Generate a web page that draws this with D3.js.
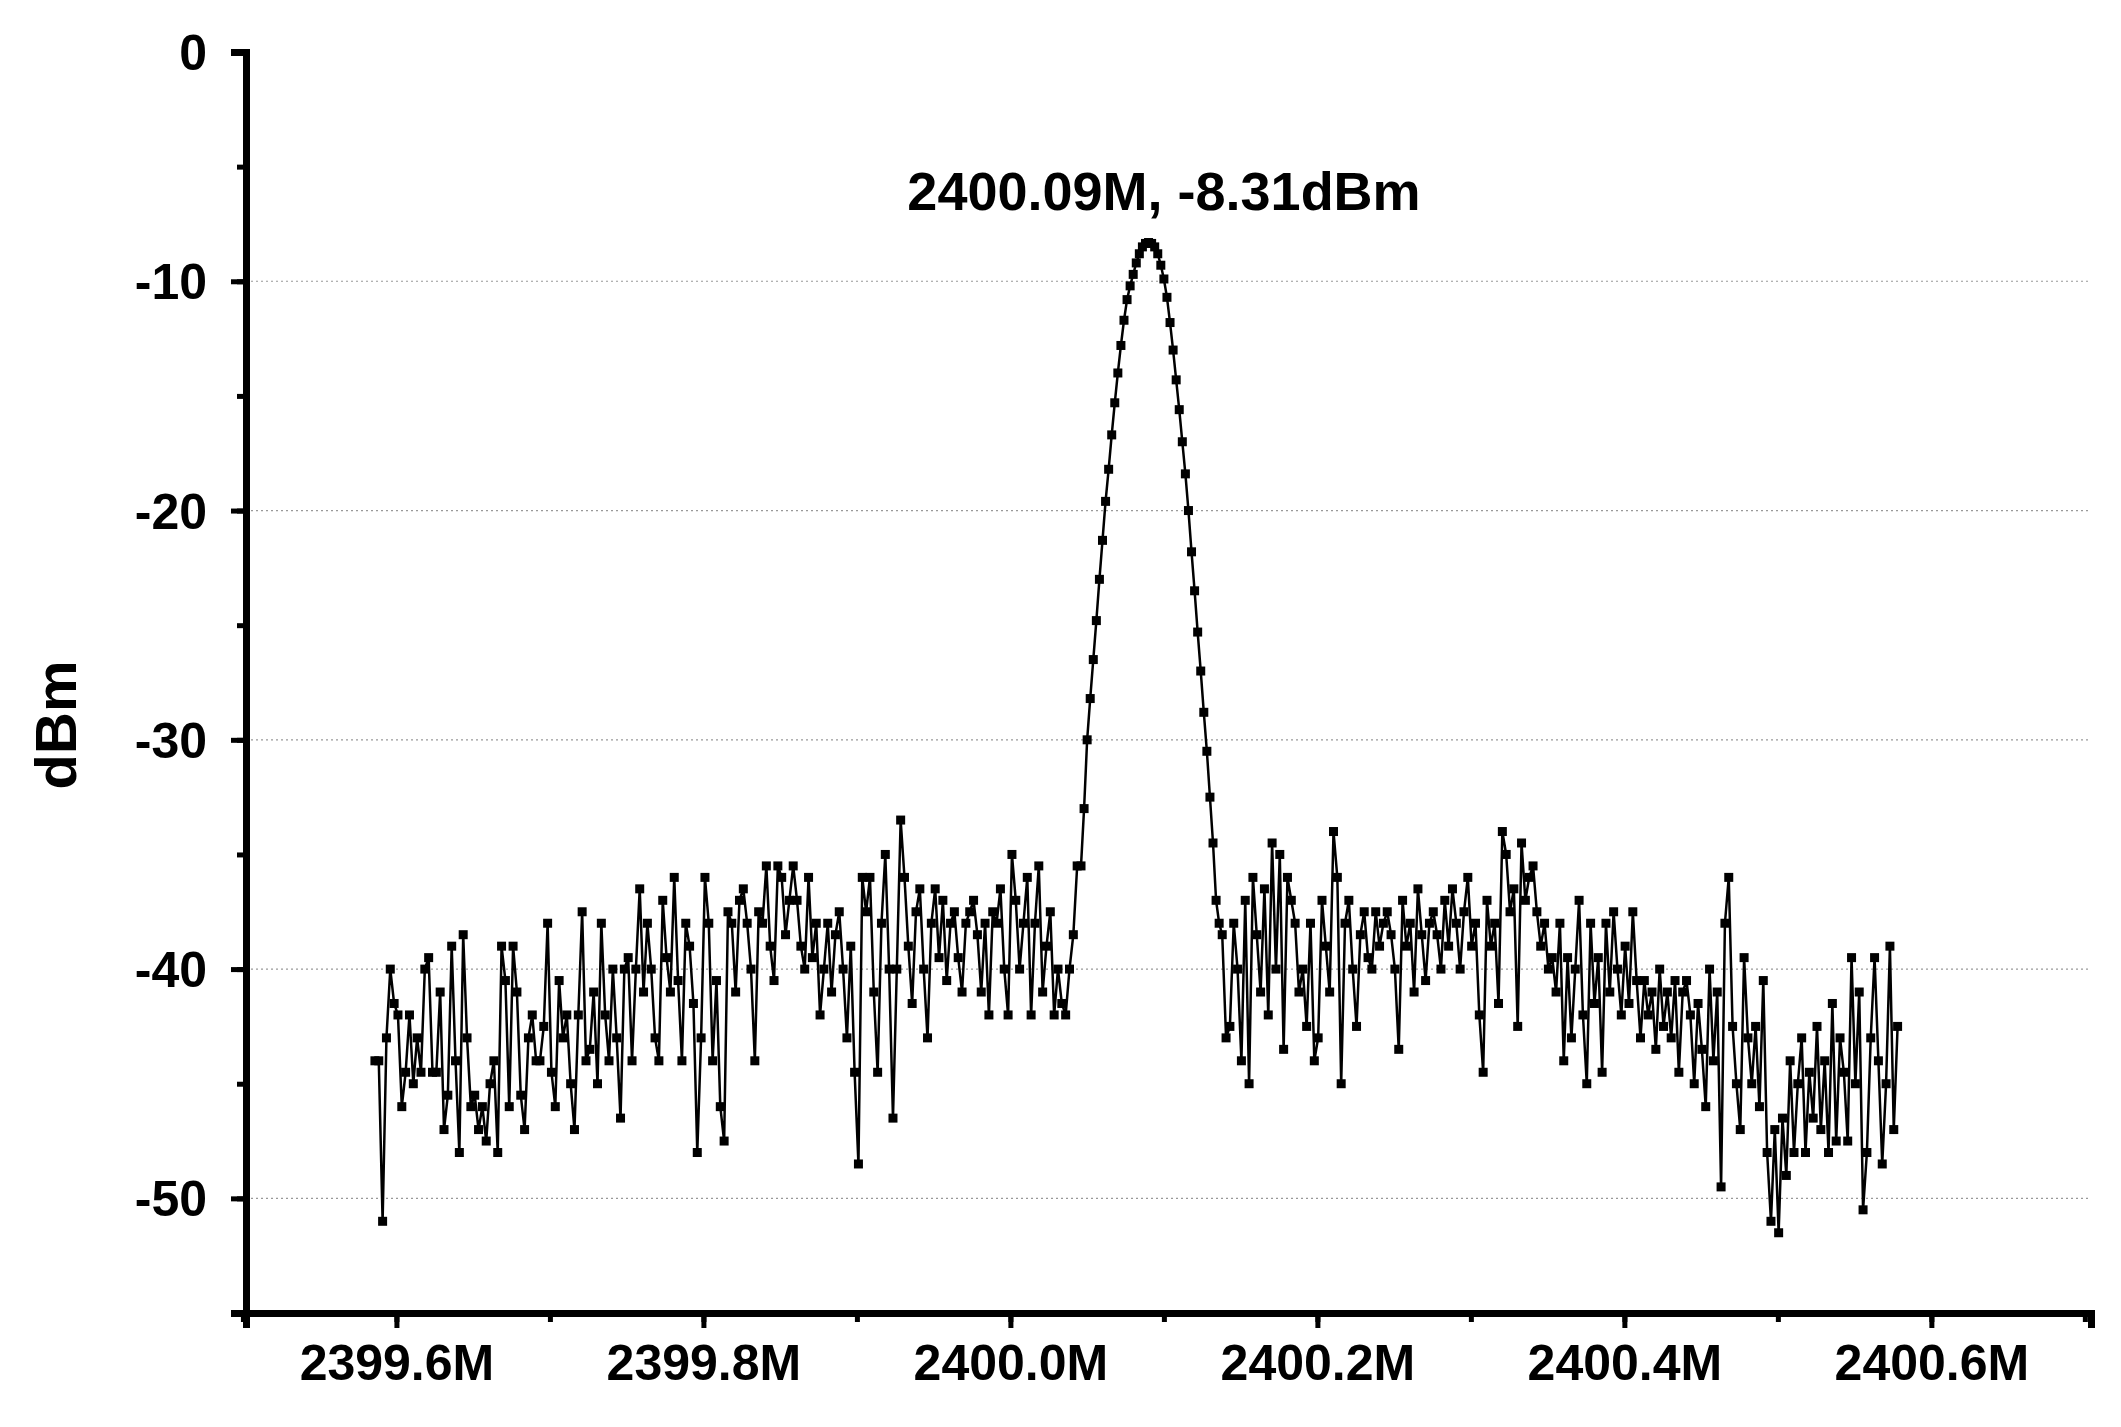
<!DOCTYPE html>
<html>
<head>
<meta charset="utf-8">
<script src="https://cdn.jsdelivr.net/npm/d3@7"></script>
<style>
  body { margin: 0; background: #fff; }
  text { font-family: "Liberation Sans", Arial, sans-serif; font-weight: bold; }
</style>
</head>
<body>
<svg id="chart" width="2121" height="1427"></svg>
<script>
// left noise floor, 2.5 kHz steps from 2399.586M
const leftStart = 2399.586, noiseStep = 0.0025;
const leftNoise = [
  -44,-44,-51,-43,-40,-41.5,-42,-46,-44.5,-42,-45,-43,-44.5,-40,-39.5,-44.5,-44.5,-41,-47,-45.5,
  -39,-44,-48,-38.5,-43,-46,-45.5,-47,-46,-47.5,-45,-44,-48,-39,-40.5,-46,-39,-41,-45.5,-47,
  -43,-42,-44,-44,-42.5,-38,-44.5,-46,-40.5,-43,-42,-45,-47,-42,-37.5,-44,-43.5,-41,-45,-38,
  -42,-44,-40,-43,-46.5,-40,-39.5,-44,-40,-36.5,-41,-38,-40,-43,-44,-37,-39.5,-41,-36,-40.5,
  -44,-38,-39,-41.5,-48,-43,-36,-38,-44,-40.5,-46,-47.5,-37.5,-38,-41,-37,-36.5,-38,-40,-44,
  -37.5,-38,-35.5,-39,-40.5,-35.5,-36,-38.5,-37,-35.5,-37,-39,-40,-36,-39.5,-38,-42,-40,-38,-41,
  -38.5,-37.5,-40,-43,-39,-44.5,-48.5,-36,-37.5,-36,-41,-44.5,-38,-35,-40,-46.5,-40,-33.5,-36,-39,
  -41.5,-37.5,-36.5,-40,-43,-38,-36.5,-39.5,-37,-40.5,-38,-37.5,-39.5,-41,-38,-37.5,-37,-38.5,-41,-38,
  -42,-37.5,-38,-36.5,-40,-42,-35,-37,-40,-38,-36,-42,-38,-35.5,-41,-39,-37.5,-42,-40,-41.5,
  -42,-40,-38.5,-35.5
];
// main lobe, 2 kHz steps from 2400.046M
const peakStart = 2400.046, peakStep = 0.002;
const peakValues = [
  -35.5,-33,-30,-28.2,-26.5,-24.8,-23,-21.3,-19.6,-18.2,-16.7,-15.3,-14,-12.8,-11.7,-10.8,
  -10.2,-9.7,-9.2,-8.8,-8.5,-8.35,-8.31,-8.35,-8.5,-8.8,-9.3,-9.9,-10.7,-11.8,-13,-14.3,
  -15.6,-17,-18.4,-20,-21.8,-23.5,-25.3,-27,-28.8,-30.5,-32.5,-34.5,-37,-38
];
// right noise floor, 2.5 kHz steps from 2400.138M
const rightStart = 2400.138;
const rightNoise = [
  -38.5,-43,-42.5,-38,-40,-44,-37,-45,-36,-38.5,-41,-36.5,-42,-34.5,-40,-35,-43.5,-36,-37,-38,
  -41,-40,-42.5,-38,-44,-43,-37,-39,-41,-34,-36,-45,-38,-37,-40,-42.5,-38.5,-37.5,-39.5,-40,
  -37.5,-39,-38,-37.5,-38.5,-40,-43.5,-37,-39,-38,-41,-36.5,-38.5,-40.5,-38,-37.5,-38.5,-40,-37,-39,
  -36.5,-38,-40,-37.5,-36,-39,-38,-42,-44.5,-37,-39,-38,-41.5,-34,-35,-37.5,-36.5,-42.5,-34.5,-37,
  -36,-35.5,-37.5,-39,-38,-40,-39.5,-41,-38,-44,-39.5,-43,-40,-37,-42,-45,-38,-41.5,-39.5,-44.5,
  -38,-41,-37.5,-40,-42,-39,-41.5,-37.5,-40.5,-43,-40.5,-42,-41,-43.5,-40,-42.5,-41,-43,-40.5,-44.5,
  -41,-40.5,-42,-45,-41.5,-43.5,-46,-40,-44,-41,-49.5,-38,-36,-42.5,-45,-47,-39.5,-43,-45,-42.5,
  -46,-40.5,-48,-51,-47,-51.5,-46.5,-49,-44,-48,-45,-43,-48,-44.5,-46.5,-42.5,-47,-44,-48,-41.5,
  -47.5,-43,-44.5,-47.5,-39.5,-45,-41,-50.5,-48,-43,-39.5,-44,-48.5,-45,-39,-47,-42.5
];
const xTicks = [2399.6, 2399.8, 2400.0, 2400.2, 2400.4, 2400.6];
const yTicks = [0, -10, -20, -30, -40, -50];
const peakLabel = '2400.09M, -8.31dBm';

const data = [
  ...leftNoise.map((v, i) => [leftStart + i * noiseStep, v]),
  ...peakValues.map((v, i) => [peakStart + i * peakStep, v]),
  ...rightNoise.map((v, i) => [rightStart + i * noiseStep, v])
];

const svg = d3.select('#chart');
const m = { left: 246, right: 2091, top: 52, bottom: 1313 };
const x = d3.scaleLinear().domain([2399.502, 2400.704]).range([m.left, m.right]);
const y = d3.scaleLinear().domain([-55, 0]).range([m.bottom, m.top]);

// grid
svg.append('g').selectAll('line').data(yTicks.filter(d => d !== 0)).join('line')
  .attr('x1', m.left).attr('x2', m.right)
  .attr('y1', d => y(d)).attr('y2', d => y(d))
  .attr('stroke', '#999').attr('stroke-width', 1.2).attr('stroke-dasharray', '2,3');

// minor ticks
svg.append('g').attr('transform', `translate(0,${m.bottom})`)
  .call(d3.axisBottom(x).tickValues(d3.range(2399.5, 2400.71, 0.1)).tickSize(9).tickFormat(''))
  .call(g => g.selectAll('line').attr('stroke-width', 5))
  .call(g => g.select('.domain').remove());
svg.append('g').attr('transform', `translate(${m.left},0)`)
  .call(d3.axisLeft(y).tickValues(d3.range(-55, 1, 5)).tickSize(9).tickFormat(''))
  .call(g => g.selectAll('line').attr('stroke-width', 5))
  .call(g => g.select('.domain').remove());

// major axes
const xAxis = svg.append('g').attr('transform', `translate(0,${m.bottom})`)
  .call(d3.axisBottom(x).tickValues(xTicks).tickSize(15).tickPadding(16)
    .tickFormat(d => d3.format('.1f')(d).replace('−', '-') + 'M'));
const yAxis = svg.append('g').attr('transform', `translate(${m.left},0)`)
  .call(d3.axisLeft(y).tickValues(yTicks).tickSize(15).tickPadding(24).tickFormat(d => String(d)));
[xAxis, yAxis].forEach(g => {
  g.select('.domain').attr('stroke-width', 7).attr('stroke', '#000');
  g.selectAll('.tick line').attr('stroke-width', 5);
  g.selectAll('text').attr('font-size', 50).attr('fill', '#000')
    .style('font-family', '"Liberation Sans", Arial, sans-serif').style('font-weight', 'bold');
});
yAxis.selectAll('text').attr('dy', '0.35em');

// series
svg.append('path').datum(data)
  .attr('fill', 'none').attr('stroke', '#000').attr('stroke-width', 2.5)
  .attr('d', d3.line().x(d => x(d[0])).y(d => y(d[1])));
svg.append('g').selectAll('rect').data(data).join('rect')
  .attr('x', d => x(d[0]) - 4.5).attr('y', d => y(d[1]) - 4.5)
  .attr('width', 9).attr('height', 9).attr('fill', '#000');

svg.append('text').attr('x', 1164).attr('y', 210).attr('text-anchor', 'middle')
  .attr('font-size', 54).text(peakLabel);
svg.append('text').attr('transform', 'translate(76,725) rotate(-90)')
  .attr('text-anchor', 'middle').attr('font-size', 58).text('dBm');
</script>
</body>
</html>
